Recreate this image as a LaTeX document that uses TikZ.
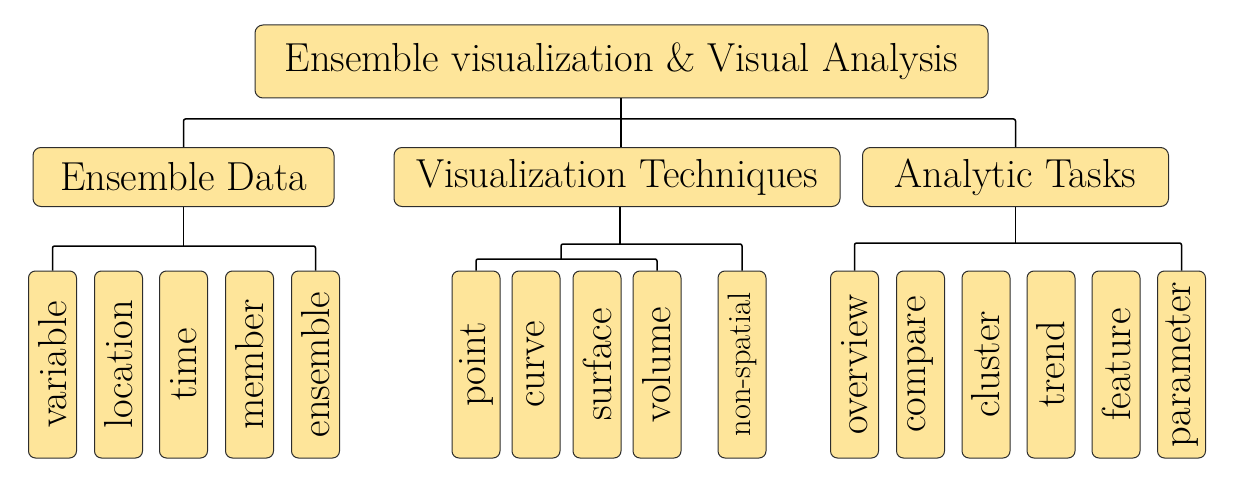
\documentclass[tikz,border=0pt]{standalone}
\usepackage{graphicx}
\definecolor{boxfill}{RGB}{254,229,154}
\definecolor{boxline}{RGB}{45,45,45}
\tikzset{
  box/.style={draw=boxline, line width=1pt, fill=boxfill, rounded corners=8pt, inner sep=0pt, font=\fontsize{40.5}{48}\selectfont},
  leaf/.style={box, minimum width=48pt, minimum height=187pt, rounded corners=7pt},
  conn/.style={draw=black, line width=1.5pt, rounded corners=2pt},
}
\begin{document}
\begin{tikzpicture}[x=1pt,y=-1pt]
\useasboundingbox (0,0) rectangle (1239,492);
% level 1
\node[box, minimum width=733pt, minimum height=73pt] (top) at (621.5,61.5) {Ensemble visualization \& Visual Analysis};
% level 2
\node[box, minimum width=301pt, minimum height=59pt] (ed) at (183.5,177) {Ensemble Data};
\node[box, minimum width=446pt, minimum height=59pt] (vt) at (617,177) {Visualization Techniques};
\node[box, minimum width=306pt, minimum height=59pt] (at) at (1015.5,177) {Analytic Tasks};
% leaves: ensemble data
\node[leaf] (e1) at (52.5,364.5) {\rotatebox{90}{variable}};
\node[leaf] (e2) at (118.5,364.5) {\rotatebox{90}{location}};
\node[leaf] (e3) at (183.5,364.5) {\rotatebox{90}{time}};
\node[leaf] (e4) at (249.5,364.5) {\rotatebox{90}{member}};
\node[leaf] (e5) at (315.5,364.5) {\rotatebox{90}{ensemble}};
% leaves: visualization techniques
\node[leaf] (v1) at (476,364.5) {\rotatebox{90}{point}};
\node[leaf] (v2) at (536,364.5) {\rotatebox{90}{curve}};
\node[leaf] (v3) at (597,364.5) {\rotatebox{90}{surface}};
\node[leaf] (v4) at (657,364.5) {\rotatebox{90}{volume}};
\node[leaf] (v5) at (742,364.5) {\rotatebox{90}{\fontsize{32.5}{38}\selectfont non-spatial}};
% leaves: analytic tasks
\node[leaf] (a1) at (854.5,364.5) {\rotatebox{90}{overview}};
\node[leaf] (a2) at (920.5,364.5) {\rotatebox{90}{compare}};
\node[leaf] (a3) at (986,364.5) {\rotatebox{90}{cluster}};
\node[leaf] (a4) at (1051,364.5) {\rotatebox{90}{trend}};
\node[leaf] (a5) at (1116,364.5) {\rotatebox{90}{feature}};
\node[leaf] (a6) at (1181.5,364.5) {\rotatebox{90}{parameter}};
% bus coordinates
\coordinate (topbus) at (621,119);
\coordinate (edbus) at (183.5,246);
\coordinate (vtbus) at (620,244);
\coordinate (vtsub) at (561,259);
\coordinate (atbus) at (1015.5,243);
% connectors
\draw[conn] (top.south -| topbus) -- (vt.north -| topbus);
\draw[conn] (ed.north) |- (topbus) -| (at.north);
\draw[conn] (ed.south) -- (edbus);
\draw[conn] (e1.north) |- (edbus) -| (e5.north);
\draw[conn] (vt.south -| vtbus) -- (vtbus);
\draw[conn] (vtsub) |- (vtbus) -| (v5.north);
\draw[conn] (v1.north) |- (vtsub) -| (v4.north);
\draw[conn] (at.south) -- (atbus);
\draw[conn] (a1.north) |- (atbus) -| (a6.north);
\end{tikzpicture}
\end{document}
